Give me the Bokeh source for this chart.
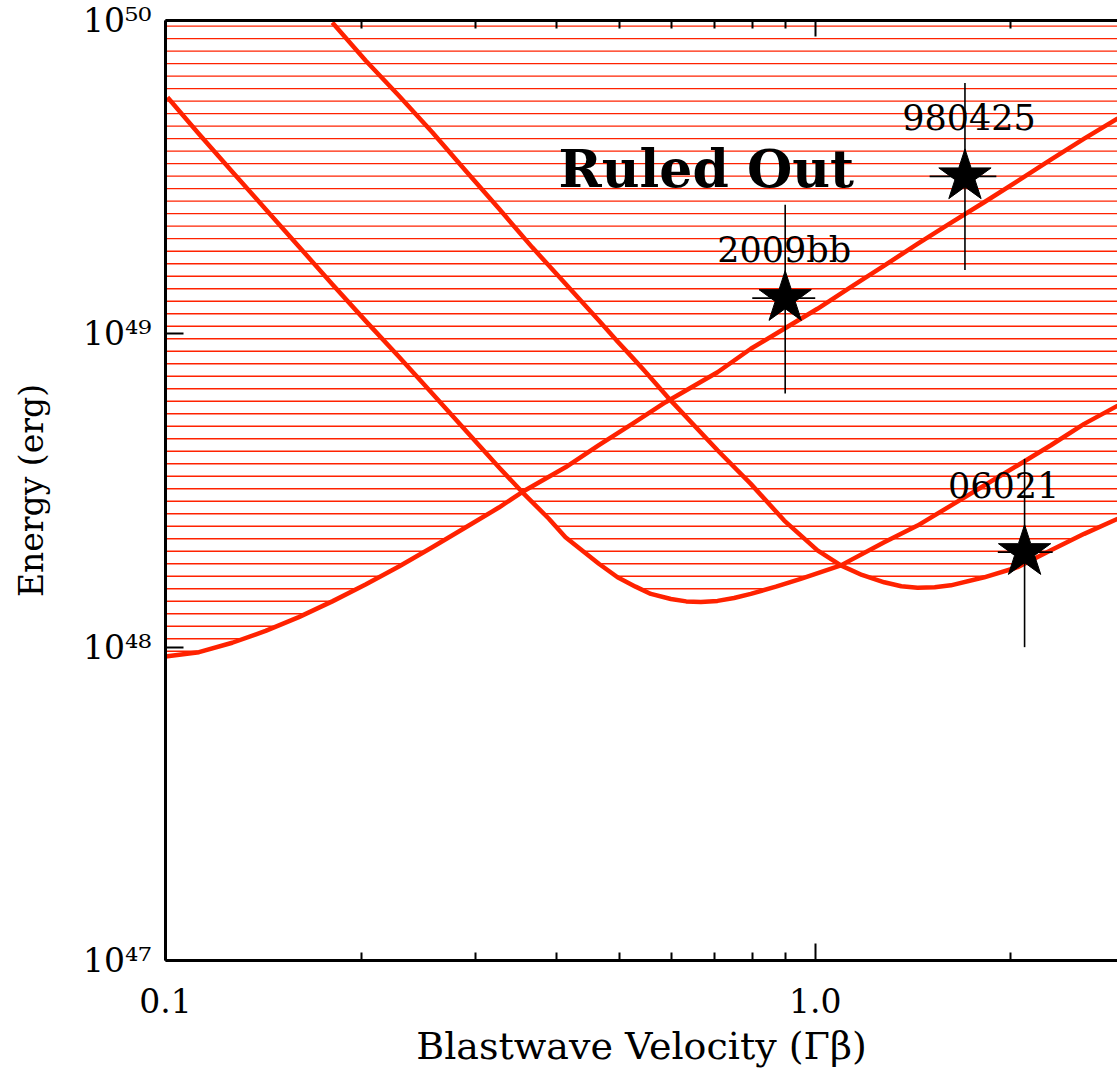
import numpy as np
from bokeh.plotting import figure
from bokeh.models import (Range1d, LogAxis, FixedTicker, PrintfTickFormatter,
                          CustomJSTickFormatter, Label)
from bokeh.embed import file_html
from bokeh.resources import INLINE

# ---------------- data ----------------
# Curve 1: rising constraint (minimum near 0.1)
curve1_x = [0.100, 0.1126, 0.1267, 0.1426, 0.1604, 0.1806, 0.2032, 0.2287, 0.2574,
            0.2895, 0.3259, 0.3540, 0.4127, 0.4645, 0.5229, 0.5884, 0.7073, 0.7959,
            0.8960, 1.008, 1.134, 1.277, 1.437, 1.617, 1.820, 2.048, 2.305, 2.594, 2.922]
curve1_e = [9.34e47, 9.64e47, 1.033e48, 1.127e48, 1.247e48, 1.40e48, 1.585e48, 1.81e48,
            2.084e48, 2.41e48, 2.79e48, 3.126e48, 3.75e48, 4.41e48, 5.16e48, 6.05e48,
            7.54e48, 8.96e48, 1.038e49, 1.202e49, 1.409e49, 1.652e49, 1.936e49, 2.26e49,
            2.63e49, 3.07e49, 3.60e49, 4.20e49, 4.87e49]

# Curve 2: U-shaped, minimum near 0.67
curve2_x = [0.1007, 0.1126, 0.1267, 0.1426, 0.1604, 0.1806, 0.2032, 0.2287, 0.2574,
            0.2895, 0.3259, 0.3540, 0.3891, 0.4127, 0.4645, 0.4963, 0.5290, 0.5585,
            0.5996, 0.6330, 0.6668, 0.7073, 0.7500, 0.7959, 0.870, 0.950, 1.095, 1.277,
            1.437, 1.617, 1.820, 2.048, 2.305, 2.594, 2.922]
curve2_e = [5.69e49, 4.34e49, 3.29e49, 2.50e49, 1.90e49, 1.44e49, 1.10e49, 8.45e48,
            6.45e48, 4.92e48, 3.75e48, 3.126e48, 2.57e48, 2.244e48, 1.846e48, 1.671e48,
            1.56e48, 1.479e48, 1.425e48, 1.40e48, 1.393e48, 1.405e48, 1.435e48, 1.479e48,
            1.56e48, 1.652e48, 1.824e48, 2.161e48, 2.444e48, 2.83e48, 3.28e48, 3.80e48,
            4.41e48, 5.16e48, 5.90e48]

# Curve 3: U-shaped, minimum near 1.45
curve3_x = [0.1806, 0.2032, 0.2287, 0.2574, 0.2895, 0.3259, 0.3668, 0.4127, 0.4645,
            0.4963, 0.5229, 0.5456, 0.5996, 0.7073, 0.7959, 0.8960, 1.008, 1.095, 1.180,
            1.277, 1.357, 1.437, 1.527, 1.617, 1.820, 2.048, 2.305, 2.594, 2.922]
curve3_e = [9.86e49, 7.45e49, 5.75e49, 4.40e49, 3.32e49, 2.51e49, 1.888e49, 1.445e49,
            1.103e49, 9.46e48, 8.41e48, 7.64e48, 6.12e48, 4.25e48, 3.32e48, 2.535e48,
            2.037e48, 1.824e48, 1.70e48, 1.611e48, 1.565e48, 1.548e48, 1.552e48, 1.575e48,
            1.671e48, 1.80e48, 2.037e48, 2.30e48, 2.57e48]

# Events
event_names = ["2009bb", "980425", "06021"]
event_x = [0.899, 1.70, 2.10]
event_e = [1.30e49, 3.18e49, 2.01e48]
event_e_lo = [6.45e48, 1.60e49, 1.00e48]
event_e_hi = [2.58e49, 6.32e49, 3.99e48]
event_x_lo = [0.80, 1.50, 1.91]
event_x_hi = [1.00, 1.90, 2.32]

# Axis ticks
x_major_ticks = [0.1, 1.0]
x_minor_ticks = [0.2, 0.3, 0.4, 0.5, 0.6, 0.7, 0.8, 0.9, 2.0]
y_major_ticks = [1e47, 1e48, 1e49, 1e50]

# ---------------- style ----------------
X_MIN, X_MAX = 0.1, 2.919
Y_MIN, Y_MAX = 1e47, 1e50
RED = "#ff2200"
FONT = "DejaVu Serif"

p = figure(frame_width=952, frame_height=940,
           x_axis_type="log", y_axis_type="log",
           x_range=Range1d(X_MIN, X_MAX), y_range=Range1d(Y_MIN, Y_MAX),
           output_backend="svg", toolbar_location=None,
           min_border_left=165, min_border_right=0, min_border_top=20, min_border_bottom=110)
p.grid.visible = False
p.outline_line_color = None
p.background_fill_color = "white"
p.border_fill_color = "white"

# ---------------- hatching: horizontal lines above the lower envelope ----------------
xg = np.logspace(np.log10(X_MIN), np.log10(X_MAX), 4000)
lxg = np.log10(xg)
env = np.full_like(xg, np.inf)
for cx, ce in [(curve1_x, curve1_e), (curve2_x, curve2_e), (curve3_x, curve3_e)]:
    lc = np.interp(lxg, np.log10(cx), np.log10(ce), left=np.inf, right=np.inf)
    env = np.minimum(env, lc)

hx0, hx1, hy = [], [], []
level = 49.982
while level > np.log10(Y_MIN):
    mask = env < level
    m = np.concatenate([[False], mask, [False]]).astype(int)
    d = np.diff(m)
    starts = np.where(d == 1)[0]
    ends = np.where(d == -1)[0] - 1
    for s, e in zip(starts, ends):
        hx0.append(xg[s]); hx1.append(xg[e]); hy.append(10 ** level)
    level -= 0.0399

p.segment(x0=hx0, y0=hy, x1=hx1, y1=hy, line_color=RED, line_width=1.4)

# ---------------- curves ----------------
for cx, ce in [(curve1_x, curve1_e), (curve2_x, curve2_e), (curve3_x, curve3_e)]:
    p.line(cx, ce, line_color=RED, line_width=4.5, line_join="round")

# ---------------- events ----------------
p.segment(x0=event_x, y0=event_e_lo, x1=event_x, y1=event_e_hi, line_color="black", line_width=1.6)
p.segment(x0=event_x_lo, y0=event_e, x1=event_x_hi, y1=event_e, line_color="black", line_width=1.6)
p.scatter(event_x, event_e, marker="star", size=55, fill_color="black", line_color="black")

label_dx = [-1, 4, -21]
label_dy = [48, 59, 67]
for name, x, y, dx, dy in zip(event_names, event_x, event_e, label_dx, label_dy):
    p.add_layout(Label(x=x, y=y, x_offset=dx, y_offset=dy, text=name,
                       text_align="center", text_baseline="alphabetic",
                       text_font=FONT, text_font_size="35px", text_color="black"))

p.add_layout(Label(x=0.4027, y=2.94e49, y_offset=19, text="Ruled Out", text_align="left",
                   text_baseline="alphabetic", text_font=FONT, text_font_size="52px",
                   text_font_style="bold", text_color="black"))

# ---------------- axes ----------------
xa = p.xaxis[0]
xa.ticker = FixedTicker(ticks=x_major_ticks, minor_ticks=x_minor_ticks)
xa.formatter = PrintfTickFormatter(format="%.1f")
xa.major_tick_in = 17
xa.major_tick_out = 0
xa.minor_tick_in = 8
xa.minor_tick_out = 0
xa.axis_line_width = 3
xa.major_tick_line_width = 2
xa.minor_tick_line_width = 2
xa.major_label_text_font = FONT
xa.major_label_text_font_size = "33px"
xa.major_label_text_color = "black"
xa.major_label_standoff = 27
xa.axis_label = "Blastwave Velocity (Γβ)"
xa.axis_label_text_font = FONT
xa.axis_label_text_font_size = "38px"
xa.axis_label_text_font_style = "normal"
xa.axis_label_text_color = "black"
xa.axis_label_standoff = 8

sup_code = """
const sup = {"0":"\u2070","1":"\u00b9","2":"\u00b2","3":"\u00b3","4":"\u2074",
             "5":"\u2075","6":"\u2076","7":"\u2077","8":"\u2078","9":"\u2079"};
const e = Math.round(Math.log10(tick));
return "10" + String(e).split("").map(c => sup[c]).join("");
"""

ya = p.yaxis[0]
ya.ticker = FixedTicker(ticks=y_major_ticks, minor_ticks=[])
ya.formatter = CustomJSTickFormatter(code=sup_code)
ya.major_label_text_font = FONT
ya.major_label_text_font_size = "33px"
ya.major_label_text_color = "black"
ya.major_label_standoff = 14
ya.major_tick_in = 18
ya.major_tick_out = 0
ya.minor_tick_in = 0
ya.minor_tick_out = 0
ya.axis_line_width = 3
ya.major_tick_line_width = 2
ya.axis_label = "Energy (erg)"
ya.axis_label_text_font = FONT
ya.axis_label_text_font_size = "33px"
ya.axis_label_text_font_style = "normal"
ya.axis_label_text_color = "black"
ya.axis_label_standoff = 29

top = LogAxis(ticker=FixedTicker(ticks=x_major_ticks, minor_ticks=x_minor_ticks),
              formatter=CustomJSTickFormatter(code="return ''"),
              major_label_text_font_size="0px", major_label_standoff=0,
              major_tick_in=16, major_tick_out=0, minor_tick_in=8, minor_tick_out=0,
              axis_line_width=3, major_tick_line_width=2, minor_tick_line_width=2)
p.add_layout(top, "above")

open("out.html", "w").write(file_html(p, INLINE))
